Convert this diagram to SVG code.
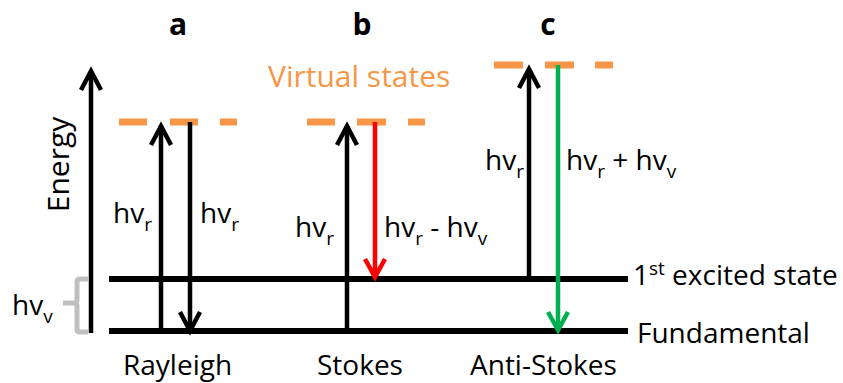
<svg xmlns="http://www.w3.org/2000/svg" width="843" height="383" viewBox="0 0 843 383">
<style>
text{font-family:"Open Sans","Liberation Sans",sans-serif;fill:#000}
.lbl{font-size:28px}
.bold{font-size:30px;font-weight:bold;text-anchor:middle}
.sub{font-size:19px}
.level{stroke:#000;stroke-width:6;fill:none}
.dash{stroke:#F79646;stroke-width:7;fill:none}
.arr{stroke:#000;stroke-width:4.5;fill:none;marker-end:url(#hb)}
.red{stroke:#FF0000;stroke-width:4.5;fill:none;marker-end:url(#hr)}
.green{stroke:#00B050;stroke-width:4.5;fill:none;marker-end:url(#hg)}
</style>
<defs>
<marker id="hb" markerUnits="userSpaceOnUse" viewBox="-22 -14 28 28" refX="0" refY="0" markerWidth="28" markerHeight="28" orient="auto"><path d="M-19,-10 L0,0 L-19,10" fill="none" stroke="#000" stroke-width="4.5"/></marker>
<marker id="hr" markerUnits="userSpaceOnUse" viewBox="-22 -14 28 28" refX="0" refY="0" markerWidth="28" markerHeight="28" orient="auto"><path d="M-18,-10 L0,0 L-18,10" fill="none" stroke="#FF0000" stroke-width="4.5"/></marker>
<marker id="hg" markerUnits="userSpaceOnUse" viewBox="-22 -14 28 28" refX="0" refY="0" markerWidth="28" markerHeight="28" orient="auto"><path d="M-18,-10 L0,0 L-18,10" fill="none" stroke="#00B050" stroke-width="4.5"/></marker>
</defs>

<g id="titles">
<text class="bold" x="178" y="35">a</text>
<text class="bold" x="362" y="35">b</text>
<text class="bold" x="548" y="35">c</text>
</g>

<g id="energy-axis">
<path class="arr" d="M91,333 V71"/>
<text transform="translate(69,164.5) rotate(-90)" text-anchor="middle" font-size="30">Energy</text>
</g>

<g id="hv-bracket">
<path d="M88,279 H80 Q77,279 77,282 V300 Q77,303 74,303 H63 M74,303 Q77,303 77,306 V329 Q77,332 80,332 H88" fill="none" stroke="#BFBFBF" stroke-width="5"/>
<text class="lbl" x="12" y="315">hv<tspan class="sub" dy="8">v</tspan></text>
</g>

<g id="level-excited">
<path class="level" d="M109,279 H628"/>
<text class="lbl" x="633" y="285">1<tspan class="sub" dy="-10">st</tspan><tspan dy="10"> excited state</tspan></text>
</g>

<g id="level-fundamental">
<path class="level" d="M109,331 H628"/>
<text class="lbl" x="637" y="343">Fundamental</text>
</g>

<g id="virtual-states-label">
<text x="268" y="87" font-size="30" style="fill:#F79646">Virtual states</text>
</g>

<g id="virtual-a">
<path class="dash" d="M119,122 H147 M170,122 H198 M220,122 H237"/>
</g>
<g id="virtual-b">
<path class="dash" d="M307,122 H335 M357,122 H386 M408,122 H425"/>
</g>
<g id="virtual-c">
<path class="dash" d="M494,65 H523 M545,65 H574 M595,65 H613"/>
</g>

<g id="connectors">
<path class="arr" d="M161,331 V126"/>
<path class="arr" d="M190,122 V331"/>
<path class="arr" d="M347,331 V126"/>
<path class="red" d="M375,122 V277"/>
<path class="arr" d="M529,279 V69"/>
<path class="green" d="M558,65 V330"/>
</g>

<g id="labels">
<text class="lbl" x="113" y="223">hv<tspan class="sub" dy="8">r</tspan></text>
<text class="lbl" x="200" y="223">hv<tspan class="sub" dy="8">r</tspan></text>
<text class="lbl" x="295" y="237">hv<tspan class="sub" dy="8">r</tspan></text>
<text class="lbl" x="384" y="237">hv<tspan class="sub" dy="8">r</tspan><tspan dy="-8"> - hv</tspan><tspan class="sub" dy="8">v</tspan></text>
<text class="lbl" x="485" y="170">hv<tspan class="sub" dy="8">r</tspan></text>
<text class="lbl" x="566" y="170">hv<tspan class="sub" dy="8">r</tspan><tspan dy="-8"> + hv</tspan><tspan class="sub" dy="8">v</tspan></text>
<text class="lbl" x="123" y="375">Rayleigh</text>
<text class="lbl" x="317" y="375">Stokes</text>
<text class="lbl" x="470" y="375">Anti-Stokes</text>
</g>
</svg>
